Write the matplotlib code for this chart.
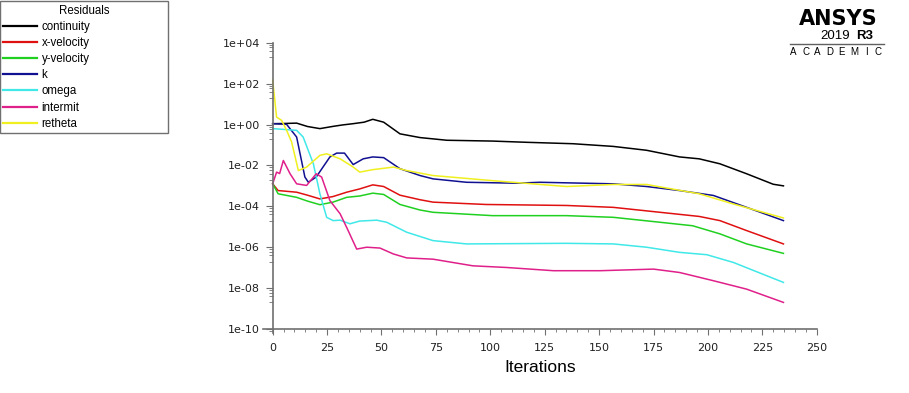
import matplotlib
matplotlib.use("Agg")
import matplotlib.pyplot as plt
import matplotlib.ticker as mticker
import numpy as np

# ── Residual histories ──────────
cont_it = [0, 5, 11, 16, 21.7, 27.7, 32, 37, 42, 46, 51, 58.5, 67.7, 80, 101,
           116.7, 138, 156.5, 171.8, 187, 196, 205.5, 217.8, 230, 234.7]
cont_res = [1.1, 1.12, 1.17, 0.8, 0.63, 0.81, 0.95, 1.1, 1.3, 1.8, 1.3, 0.35,
            0.23, 0.17, 0.155, 0.135, 0.115, 0.085, 0.055, 0.026, 0.021, 0.012,
            3.9e-3, 1.2e-3, 1.0e-3]

xvel_it = [0, 2.5, 11, 16, 21.7, 27.7, 34, 40, 46, 51, 58.5, 67.7, 73.7, 98,
           135, 156.5, 178, 196, 205.5, 217.8, 234.7]
xvel_res = [1.26e-3, 5.9e-4, 4.9e-4, 3.5e-4, 2.3e-4, 3.0e-4, 4.9e-4, 7.1e-4,
            1.12e-3, 9.3e-4, 3.5e-4, 2.1e-4, 1.6e-4, 1.23e-4, 1.1e-4, 8.9e-5,
            5.1e-5, 3.2e-5, 2.0e-5, 6.5e-6, 1.45e-6]

yvel_it = [0, 2.5, 11, 16, 21.7, 27.7, 34, 40, 46, 51, 58.5, 67.7, 73.7, 101,
           135, 156.5, 178, 193, 205.5, 217.8, 234.7]
yvel_res = [1.26e-3, 4.1e-4, 2.75e-4, 1.8e-4, 1.2e-4, 1.6e-4, 2.75e-4, 3.2e-4,
            4.4e-4, 3.8e-4, 1.23e-4, 6.6e-5, 5.1e-5, 3.5e-5, 3.5e-5, 2.9e-5,
            1.66e-5, 1.12e-5, 4.5e-6, 1.45e-6, 5.0e-7]

k_it = [0, 6.4, 11, 14.8, 16.4, 20, 26.3, 29.4, 33, 37, 41.6, 46, 51, 58.5,
        67.7, 73.7, 89, 112, 122.8, 156.5, 171.8, 187, 202.5, 217.8, 234.7]
k_res = [1.1, 1.02, 0.245, 2.7e-3, 1.5e-3, 2.7e-3, 0.026, 0.04, 0.04, 0.011,
         0.021, 0.026, 0.024, 6.9e-3, 3.2e-3, 2.2e-3, 1.5e-3, 1.35e-3, 1.5e-3,
         1.26e-3, 9.3e-4, 5.9e-4, 3.4e-4, 8.9e-5, 2.0e-5]

omega_it = [0, 11, 14, 18.7, 21.7, 24.8, 27.8, 31, 35.5, 40, 47.8, 52.4, 61.6,
            73.7, 89, 135, 156.5, 171.8, 187, 199.5, 211.7, 234.7]
omega_res = [0.63, 0.52, 0.245, 0.012, 4.1e-4, 2.9e-5, 2.0e-5, 2.1e-5, 1.4e-5,
             1.9e-5, 2.1e-5, 1.66e-5, 5.4e-6, 2.1e-6, 1.45e-6, 1.55e-6, 1.45e-6,
             1.0e-6, 5.6e-7, 4.3e-7, 1.8e-7, 1.9e-8]

inter_it = [0, 1.8, 3.2, 4.9, 8, 11, 15.6, 20, 22.5, 26.3, 31, 34, 38.6, 43.2,
            49.3, 55.4, 61.6, 73.7, 92, 107.5, 129, 150.4, 175, 187, 202.5,
            217.8, 234.7]
inter_res = [1.26e-3, 4.7e-3, 4.0e-3, 0.0174, 3.9e-3, 1.26e-3, 1.05e-3, 3.9e-3,
             2.7e-3, 1.9e-4, 4.3e-5, 9.3e-6, 8.1e-7, 1.0e-6, 9.1e-7, 4.7e-7,
             3.0e-7, 2.6e-7, 1.23e-7, 1.02e-7, 7.1e-8, 7.1e-8, 8.5e-8, 5.8e-8,
             2.3e-8, 8.9e-9, 2.0e-9]

reth_it = [0, 1.8, 4.1, 6.4, 8.7, 11.8, 15.6, 21.7, 24.8, 31, 37, 40, 46, 55.5,
           61.6, 73.7, 101, 135, 156.5, 171.8, 196, 211.7, 234.7]
reth_res = [148, 2.3, 1.6, 0.52, 0.14, 5.6e-3, 8.3e-3, 0.031, 0.037, 0.021,
            8.3e-3, 4.7e-3, 6.2e-3, 8.3e-3, 5.6e-3, 3.2e-3, 1.8e-3, 9.3e-4,
            1.17e-3, 1.17e-3, 4.1e-4, 1.3e-4, 2.7e-5]

SERIES = [
    ("continuity", cont_it, cont_res, "#000000"),
    ("x-velocity", xvel_it, xvel_res, "#e01010"),
    ("y-velocity", yvel_it, yvel_res, "#20d020"),
    ("k", k_it, k_res, "#101090"),
    ("omega", omega_it, omega_res, "#40e8e8"),
    ("intermit", inter_it, inter_res, "#e0208a"),
    ("retheta", reth_it, reth_res, "#f0f020"),
]

X_TICKS = [0, 25, 50, 75, 100, 125, 150, 175, 200, 225, 250]
Y_TICKS = [1e-10, 1e-8, 1e-6, 1e-4, 1e-2, 1e0, 1e2, 1e4]

plt.rcParams["font.family"] = ["Liberation Sans", "DejaVu Sans"]
AXIS_GREY = "#707070"

fig = plt.figure(figsize=(9.09, 3.93), dpi=100)
ax = fig.add_axes([0.2892, 0.1524, 0.6093, 0.7389])

for name, it, res, col in SERIES:
    ax.plot(it, res, color=col, linewidth=1.1, label=name)

ax.set_yscale("log")
ax.set_xlim(-4.5, 250)
ax.set_ylim(10 ** -10.2, 1e4)
ax.spines["left"].set_position(("data", 0))
ax.spines["bottom"].set_position(("data", 1e-10))
for side in ["top", "right"]:
    ax.spines[side].set_visible(False)
for side in ["left", "bottom"]:
    ax.spines[side].set_color(AXIS_GREY)
    ax.spines[side].set_linewidth(1.2)

ax.set_xticks(X_TICKS)
ax.xaxis.set_minor_locator(mticker.MultipleLocator(5))
ax.set_yticks(Y_TICKS)
ax.yaxis.set_major_formatter(mticker.FuncFormatter(lambda v, _: f"{v:.0e}"))
minor_y = [10.0 ** e * s for e in range(-11, 4, 2) for s in (2, 4, 6, 8)]
ax.yaxis.set_minor_locator(mticker.FixedLocator(minor_y))
ax.yaxis.set_minor_formatter(mticker.NullFormatter())

ax.tick_params(axis="both", which="major", labelsize=8, color=AXIS_GREY,
               labelcolor="#202020", labelfontfamily="DejaVu Sans")
ax.tick_params(axis="y", which="major", length=5, pad=4)
ax.tick_params(axis="y", which="minor", length=3, color=AXIS_GREY)
ax.tick_params(axis="x", which="major", length=4, pad=6)
ax.tick_params(axis="x", which="minor", length=2, color=AXIS_GREY)

ax.set_xlabel("Iterations", fontsize=12.5, labelpad=5)

leg = fig.legend(loc="upper left", bbox_to_anchor=(0.0, 0.66, 0.185, 0.337),
                 bbox_transform=fig.transFigure, mode="expand",
                 title="Residuals", fontsize=8.3, title_fontsize=8.3,
                 frameon=True, fancybox=False, edgecolor="#707070",
                 framealpha=1, handlelength=2.9, handletextpad=0.4,
                 labelspacing=0.36, borderaxespad=0.0, borderpad=0.3)
leg.get_frame().set_linewidth(1.0)
for ln in leg.get_lines():
    ln.set_linewidth(1.6)

# ANSYS badge
fig.text(0.922, 0.937, "ANSYS", fontsize=15, fontweight="heavy",
         ha="center", va="baseline", family="DejaVu Sans")
fig.text(0.935, 0.900, "2019", fontsize=9.5, ha="right", va="baseline")
fig.text(0.942, 0.900, "R3", fontsize=9.5, fontweight="bold", ha="left",
         va="baseline")
fig.lines.append(plt.Line2D([0.869, 0.972], [0.889, 0.889], color="#606060",
                            linewidth=1.0, transform=fig.transFigure))
for xp, letter in zip(np.linspace(0.873, 0.966, 8), "ACADEMIC"):
    fig.text(xp, 0.860, letter, fontsize=7, ha="center", va="baseline",
             color="black")

fig.savefig("out.png", dpi=100)
